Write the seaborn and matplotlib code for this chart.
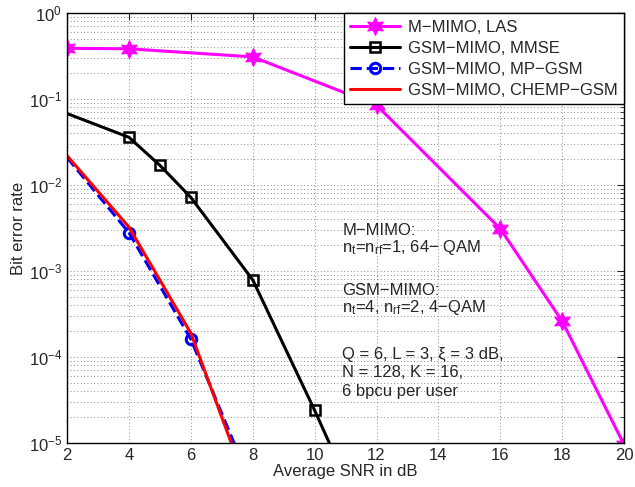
import matplotlib
matplotlib.use("Agg")
import matplotlib.pyplot as plt
import seaborn as sns
import numpy as np
import pandas as pd

# ---- data ----
snr_las = [2, 4, 8, 12, 16, 18, 20]
ber_las = [0.39, 0.385, 0.31, 0.085, 0.0031, 2.6e-4, 9.5e-6]

snr_mmse = [2, 4, 5, 6, 8, 10, 12]
ber_mmse = [0.068, 0.036, 0.017, 0.0072, 7.9e-4, 2.4e-5, 6e-7]

snr_mp = [2, 4, 6, 8]
ber_mp = [0.021, 2.8e-3, 1.62e-4, 3e-6]

snr_chemp = [2, 4, 6, 8]
ber_chemp = [0.022, 3.25e-3, 1.9e-4, 2.1e-6]

labels = ["M\u2212MIMO, LAS", "GSM\u2212MIMO, MMSE",
          "GSM\u2212MIMO, MP\u2212GSM", "GSM\u2212MIMO, CHEMP\u2212GSM"]
x_ticks = [2, 4, 6, 8, 10, 12, 14, 16, 18, 20]

sns.set_style("white")
plt.rcParams['font.family'] = ['Liberation Sans', 'DejaVu Sans']
plt.rcParams['mathtext.fontset'] = 'custom'
plt.rcParams['mathtext.rm'] = 'Liberation Sans'
plt.rcParams['mathtext.it'] = 'Liberation Sans:italic'
plt.rcParams['font.size'] = 12

fig = plt.figure(figsize=(6.35, 4.87), dpi=100)
ax = fig.add_axes([0.1055, 0.0903, 0.8775, 0.8827])

lw = 2.2
sns.lineplot(x=snr_las, y=ber_las, ax=ax, color='#ff00ff', lw=lw,
             marker=(6, 1, 0), markersize=13, markeredgecolor='#ff00ff',
             markerfacecolor='#ff00ff', label=labels[0], sort=False, errorbar=None)
sns.lineplot(x=snr_mmse, y=ber_mmse, ax=ax, color='k', lw=lw,
             marker='s', markersize=7, markeredgewidth=1.8, markerfacecolor='none',
             markeredgecolor='k', markevery=[1, 2, 3, 4, 5, 6],
             label=labels[1], sort=False, errorbar=None)
sns.lineplot(x=snr_mp, y=ber_mp, ax=ax, color='b', lw=lw, linestyle='--',
             dashes=(3, 2),
             marker='o', markersize=7.5, markeredgewidth=2.2, markerfacecolor='none',
             markeredgecolor='b', markevery=[1, 2], label=labels[2], sort=False,
             errorbar=None)
sns.lineplot(x=snr_chemp, y=ber_chemp, ax=ax, color='r', lw=lw,
             label=labels[3], sort=False, errorbar=None)

ax.set_yscale('log')
ax.set_xlim(2, 20)
ax.set_ylim(1e-5, 1)
ax.set_xticks(x_ticks)
ax.set_xticklabels([str(t) for t in x_ticks], fontsize=12)
ax.tick_params(axis='y', labelsize=12)
ax.tick_params(which='both', direction='in', top=True, right=True)
ax.tick_params(which='major', length=5)
ax.tick_params(which='minor', length=3)
ax.grid(True, which='both', linestyle=(0, (1, 3)), color='k', linewidth=0.6, alpha=0.6)
for s in ax.spines.values():
    s.set_color('k')
    s.set_linewidth(1.0)

ax.set_xlabel("Average SNR in dB", fontsize=12, labelpad=1)
ax.set_ylabel("Bit error rate", fontsize=12, labelpad=2)

leg = ax.legend(loc='upper right', fontsize=12, handlelength=3.0, numpoints=1,
                frameon=True, fancybox=False, edgecolor='k', framealpha=1,
                borderaxespad=0.0, labelspacing=0.36, borderpad=0.4,
                handletextpad=0.45)
leg.get_frame().set_linewidth(1.0)

tx = 0.494
def yf(py):
    return 1 - (py - 13) / 430.0
fs = 12
ax.text(tx, yf(230), "M\u2212MIMO:", transform=ax.transAxes, fontsize=fs, va='center')
ax.text(tx, yf(247), "n$_{\\rm t}$=n$_{\\rm rf}$=1, 64\u2212 QAM",
        transform=ax.transAxes, fontsize=fs, va='center')
ax.text(tx, yf(290), "GSM\u2212MIMO:", transform=ax.transAxes, fontsize=fs, va='center')
ax.text(tx, yf(307), "n$_{\\rm t}$=4, n$_{\\rm rf}$=2, 4\u2212QAM",
        transform=ax.transAxes, fontsize=fs, va='center')
ax.text(tx, yf(354), "Q = 6, L = 3, \u03be = 3 dB,", transform=ax.transAxes, fontsize=fs, va='center')
ax.text(tx, yf(372), "N = 128, K = 16,", transform=ax.transAxes, fontsize=fs, va='center')
ax.text(tx, yf(391), "6 bpcu per user", transform=ax.transAxes, fontsize=fs, va='center')

fig.savefig("out.png", dpi=100)
